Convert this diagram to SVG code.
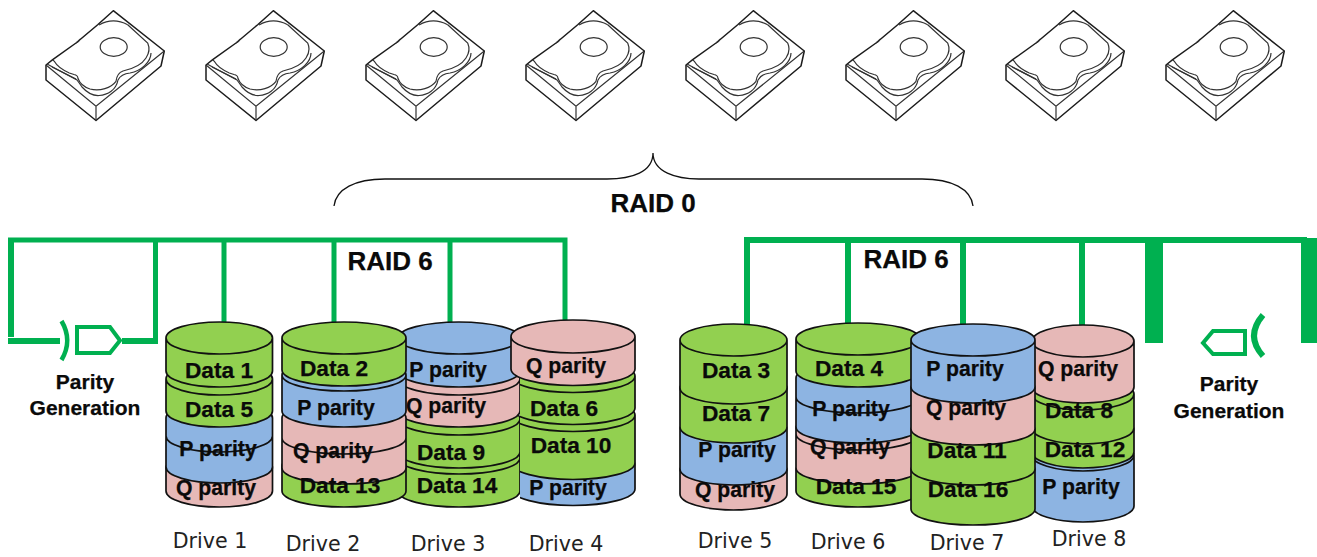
<svg xmlns="http://www.w3.org/2000/svg" width="1317" height="557" viewBox="0 0 1317 557">
<style>
.g{fill:#92D050}.b{fill:#8DB4E2}.q{fill:#E6B8B7}
.g,.b,.q{stroke:#111;stroke-width:1.7}
text{font-family:"Liberation Sans",Arial,sans-serif;fill:#0a0a0a}
.t,.u,.p,.r{font-weight:bold;text-anchor:middle;stroke:#0a0a0a;stroke-width:.25}
.t{font-size:22.7px}
.u{font-size:21.2px}
.p{font-size:21px}
.r{font-size:26px}
.d{font-family:"DejaVu Sans",sans-serif;font-size:20.6px;text-anchor:middle;fill:#222}
.bus{fill:#00B050}
.gate{fill:none;stroke:#00B050;stroke-width:4}
.dk{fill:#fff;stroke:#1c1c1c;stroke-width:1.5;stroke-linejoin:round}
.dl{fill:none;stroke:#333;stroke-width:1.2}
</style>
<defs>
<clipPath id="c4"><rect x="520" y="300" width="130" height="230"/></clipPath>
<g id="disk">
<path class="dk" d="M46 65V80L96 120.500L161 66L164.300 51L113.300 10.700L97.700 24.700L76 43L52.700 59.700Z"/>
<path class="dl" d="M46 65L96 106.300L164.300 51M96 106.300V120.500"/>
<path class="dl" d="M99 25Q113 17 127.700 24.700"/>
<path class="dl" d="M47 64L77 80Q80 84 82 87Q90 96 99 95.500C108 95 116 90 118 80Q121 74 130 73C141 71 151 62 151 53"/>
<path class="dl" d="M52 67L76 79"/>
<path class="dl" d="M52.700 59.700L54.300 61.300Q58 68 69.300 73L74 74.500Q77.700 75 78 78.500C80 84 84 87 90 89C100 91.500 111 88 116 81.300Q117 73 123 71C132 69 141 66 146 58C150 52 149 46 147.700 43L127.700 24.700"/>
<path class="dl" d="M76 43Q79 42 80 39"/>
<ellipse class="dl" cx="113.700" cy="47" rx="13.500" ry="9.300"/>
</g>
</defs>
<g id="disk-1"><use href="#disk"/></g>
<g id="disk-2"><use href="#disk" x="160"/></g>
<g id="disk-3"><use href="#disk" x="320"/></g>
<g id="disk-4"><use href="#disk" x="480"/></g>
<g id="disk-5"><use href="#disk" x="640"/></g>
<g id="disk-6"><use href="#disk" x="800"/></g>
<g id="disk-7"><use href="#disk" x="960"/></g>
<g id="disk-8"><use href="#disk" x="1120"/></g>

<g id="connectors">
<path id="brace" d="M334 206C336 189 355 179 385 179H607C632 179 653 172 653 153C653 172 676 179 699 179H922C952 179 971 189 973 206" fill="none" stroke="#111" stroke-width="1.3"/>
<path class="bus" d="M8 237.500H567.500V320H562.500V242.500H452.500V323H447.500V242.500H336.500V323H331.500V242.500H226.500V322H221.500V242.500H158V338H153V242.500H14V337H8Z"/>
<rect class="bus" x="8" y="338" width="52" height="6"/>
<rect class="bus" x="122" y="338" width="36" height="6"/>
<path class="bus" d="M744 237H1307V238H1317V343H1301V243H1163V343H1145V243H1085V325H1079V243H966V324H960V243H851V323H845V243H750V324H744Z"/>
</g>

<g id="parity-left">
<path class="gate" d="M61.500 321Q73 340.500 61.500 360" style="stroke-width:4.500"/>
<polygon class="gate" points="77,327 110,327 120,340.500 110,353 77,353"/>
<text class="p" x="85" y="389">Parity</text>
<text class="p" x="85" y="415">Generation</text>
</g>
<g id="parity-right">
<path class="gate" d="M1263 315Q1245 336 1263 356" style="stroke-width:6"/>
<polygon class="gate" points="1245,331 1213,331 1203,343 1213,354 1245,354"/>
<text class="p" x="1229" y="391">Parity</text>
<text class="p" x="1229" y="418">Generation</text>
</g>

<g id="label-raid0"><text class="r" x="653" y="212">RAID 0</text></g>
<g id="label-raid6-a"><text class="r" x="390" y="270">RAID 6</text></g>
<g id="label-raid6-b"><text class="r" x="906" y="268">RAID 6</text></g>

<g id="drive-3">
<path class="g" d="M398 458A61 16 0 0 1 520 458V491A61 16 0 0 1 398 491ZM520 458A61 16 0 0 1 398 458"/>
<path class="g" d="M398 419A61 16 0 0 1 520 419V452A61 16 0 0 1 398 452ZM520 419A61 16 0 0 1 398 419"/>
<path class="q" d="M398 379A61 16 0 0 1 520 379V411A61 16 0 0 1 398 411ZM520 379A61 16 0 0 1 398 379"/>
<path class="b" d="M398 338A61 16 0 0 1 520 338V371A61 16 0 0 1 398 371ZM520 338A61 16 0 0 1 398 338"/>
<text class="u" x="448" y="377">P parity</text>
<text class="u" x="446" y="413">Q parity</text>
<text class="t" x="451" y="460">Data 9</text>
<text class="t" x="457" y="493">Data 14</text>
<text class="d" x="448" y="551">Drive 3</text>
</g>
<g id="drive-4">
<g clip-path="url(#c4)">
<path class="b" d="M511 465A62 16.500 0 0 1 635 465V489A62 16.500 0 0 1 511 489Z"/>
<path class="g" d="M511 415A62 16.500 0 0 1 635 415V463A62 16.500 0 0 1 511 463ZM635 415A62 16.500 0 0 1 511 415"/>
<path class="g" d="M511 376A62 16.500 0 0 1 635 376V408A62 16.500 0 0 1 511 408ZM635 376A62 16.500 0 0 1 511 376"/>
</g>
<path class="q" d="M511 336.500A62 16.500 0 0 1 635 336.500V369A62 16.500 0 0 1 511 369ZM635 336.500A62 16.500 0 0 1 511 336.500"/>
<text class="u" x="566" y="373">Q parity</text>
<text class="t" x="564" y="416">Data 6</text>
<text class="t" x="571" y="453">Data 10</text>
<text class="u" x="568" y="495">P parity</text>
<text class="d" x="566" y="551">Drive 4</text>
</g>
<g id="drive-1">
<path class="q" d="M166 468A53.250 16 0 0 1 272.500 468V491A53.250 16 0 0 1 166 491Z"/>
<path class="b" d="M166 418A53.250 16 0 0 1 272.500 418V467A53.250 16 0 0 1 166 467ZM272.500 436A53.250 16 0 0 1 166 436"/>
<path class="g" d="M166 379A53.250 16 0 0 1 272.500 379V411A53.250 16 0 0 1 166 411ZM272.500 379A53.250 16 0 0 1 166 379"/>
<path class="g" d="M166 338A53.250 16 0 0 1 272.500 338V371A53.250 16 0 0 1 166 371ZM272.500 338A53.250 16 0 0 1 166 338"/>
<text class="t" x="219" y="378">Data 1</text>
<text class="t" x="219" y="417">Data 5</text>
<text class="u" x="218" y="456">P parity</text>
<text class="u" x="216" y="495">Q parity</text>
<text class="d" x="210" y="548">Drive 1</text>
</g>
<g id="drive-2">
<path class="g" d="M282 466A62 16 0 0 1 406 466V491A62 16 0 0 1 282 491Z"/>
<path class="q" d="M282 418A62 16 0 0 1 406 418V468A62 16 0 0 1 282 468ZM406 438A62 16 0 0 1 282 438"/>
<path class="b" d="M282 375A62 16 0 0 1 406 375V411A62 16 0 0 1 282 411ZM406 375A62 16 0 0 1 282 375"/>
<path class="g" d="M282 338A62 16 0 0 1 406 338V370A62 16 0 0 1 282 370ZM406 338A62 16 0 0 1 282 338"/>
<text class="t" x="334" y="376">Data 2</text>
<text class="u" x="336" y="415">P parity</text>
<text class="u" x="333" y="458">Q parity</text>
<text class="t" x="340" y="493">Data 13</text>
<text class="d" x="323" y="551">Drive 2</text>
</g>
<g id="drive-5">
<path class="q" d="M680 470A53.500 16 0 0 1 787 470V494A53.500 16 0 0 1 680 494Z"/>
<path class="b" d="M680 429A53.500 16 0 0 1 787 429V469A53.500 16 0 0 1 680 469Z"/>
<path class="g" d="M680 388A53.500 16 0 0 1 787 388V427A53.500 16 0 0 1 680 427Z"/>
<path class="g" d="M680 340A53.500 16 0 0 1 787 340V388A53.500 16 0 0 1 680 388ZM787 340A53.500 16 0 0 1 680 340"/>
<text class="t" x="736" y="378">Data 3</text>
<text class="t" x="736" y="421">Data 7</text>
<text class="u" x="737" y="457">P parity</text>
<text class="u" x="735" y="497">Q parity</text>
<text class="d" x="735" y="548">Drive 5</text>
</g>
<g id="drive-6">
<path class="g" d="M796 470A62 16 0 0 1 920 470V491A62 16 0 0 1 796 491Z"/>
<path class="q" d="M796 428A62 16 0 0 1 920 428V468A62 16 0 0 1 796 468ZM920 434A62 16 0 0 1 796 434"/>
<path class="b" d="M796 378A62 16 0 0 1 920 378V427A62 16 0 0 1 796 427ZM920 397A62 16 0 0 1 796 397"/>
<path class="g" d="M796 339A62 16 0 0 1 920 339V371A62 16 0 0 1 796 371ZM920 339A62 16 0 0 1 796 339"/>
<text class="t" x="849" y="376">Data 4</text>
<text class="u" x="851" y="416">P parity</text>
<text class="u" x="850" y="454">Q parity</text>
<text class="t" x="856" y="494">Data 15</text>
<text class="d" x="848" y="549">Drive 6</text>
</g>
<g id="drive-8">
<path class="b" d="M1032 455A51 16 0 0 1 1134 455V506A51 16 0 0 1 1032 506ZM1134 455A51 16 0 0 1 1032 455"/>
<path class="g" d="M1032 430A51 16 0 0 1 1134 430V452A51 16 0 0 1 1032 452Z"/>
<path class="g" d="M1032 394A51 16 0 0 1 1134 394V428A51 16 0 0 1 1032 428ZM1134 394A51 16 0 0 1 1032 394"/>
<path class="q" d="M1032 341A51 16 0 0 1 1134 341V387A51 16 0 0 1 1032 387ZM1134 341A51 16 0 0 1 1032 341"/>
<text class="u" x="1078" y="376">Q parity</text>
<text class="t" x="1079" y="418">Data 8</text>
<text class="t" x="1085" y="457">Data 12</text>
<text class="u" x="1081" y="494">P parity</text>
<text class="d" x="1089" y="546">Drive 8</text>
</g>
<g id="drive-7">
<path class="g" d="M911 470A62 16 0 0 1 1035 470V509A62 16 0 0 1 911 509Z"/>
<path class="g" d="M911 430A62 16 0 0 1 1035 430V469A62 16 0 0 1 911 469Z"/>
<path class="q" d="M911 388A62 16 0 0 1 1035 388V429A62 16 0 0 1 911 429Z"/>
<path class="b" d="M911 340A62 16 0 0 1 1035 340V387A62 16 0 0 1 911 387ZM1035 340A62 16 0 0 1 911 340"/>
<text class="u" x="965" y="376">P parity</text>
<text class="u" x="966" y="415">Q parity</text>
<text class="t" x="967" y="458">Data 11</text>
<text class="t" x="968" y="497">Data 16</text>
<text class="d" x="967" y="550">Drive 7</text>
</g>
</svg>
